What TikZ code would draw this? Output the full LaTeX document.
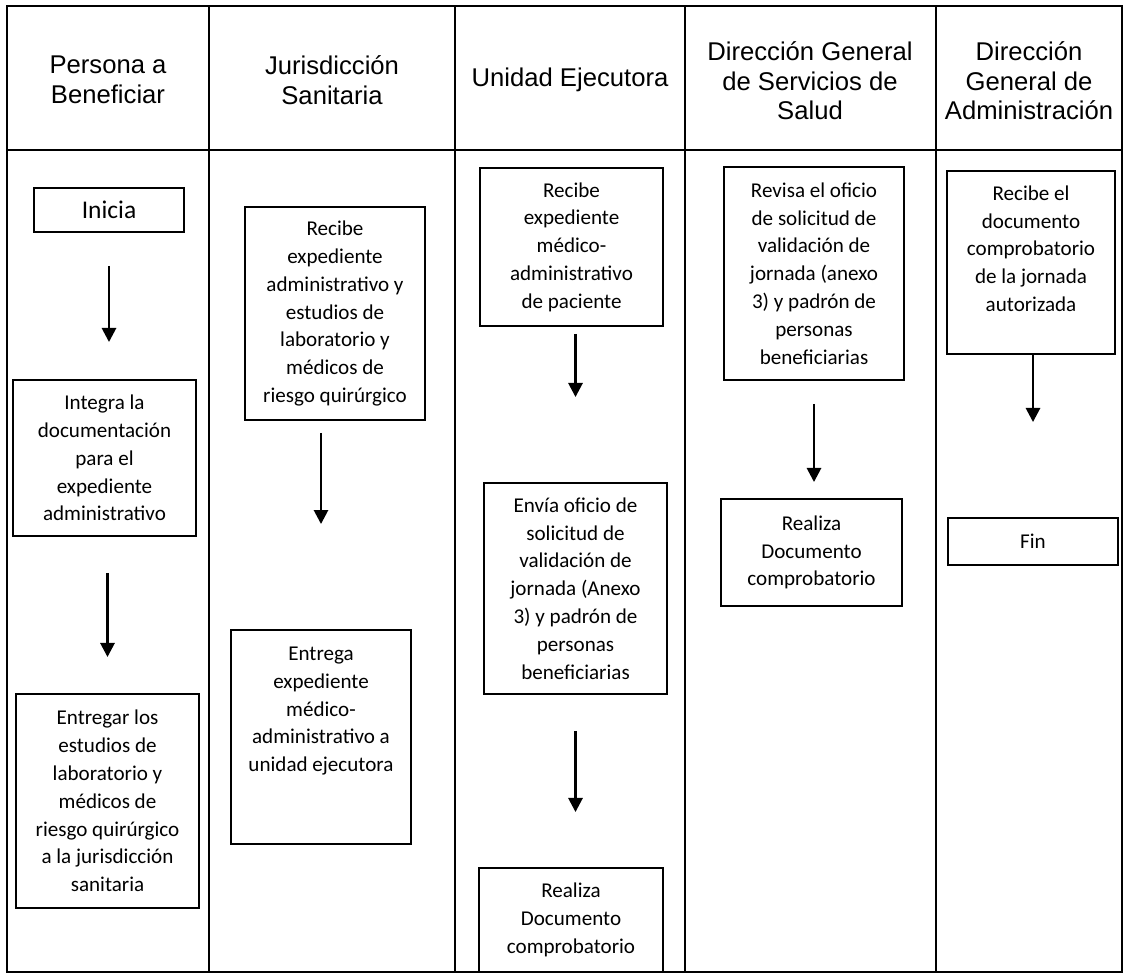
\documentclass[tikz,border=0pt]{standalone}
\usepackage{fontspec}
\newfontfamily\encab{Liberation Sans}
\newfontfamily\cuerpo{Carlito}
\usetikzlibrary{arrows.meta}
\tikzset{
  titulo/.style={align=center,font=\encab\fontsize{14.6}{16.8}\selectfont},
  paso/.style={draw,line width=1.1pt,align=center,inner sep=0pt,
    font=\cuerpo\fontsize{12}{15.8}\selectfont},
  tam/.style 2 args={minimum width=#1*.02cm,minimum height=#2*.02cm},
  flecha/.style={line width=1.5pt,-{Triangle[length=8pt,width=8pt]}}
}

\begin{document}
\begin{tikzpicture}[x=.02cm,y=-.02cm]
\useasboundingbox (0,0) rectangle (1125,976);
% Table
\draw[line width=1pt] (7,6) rectangle (1122,972);
\draw[line width=1pt] (7,150) -- (1122,150);
\foreach \c in {209,455,685,936} \draw[line width=1pt] (\c,6) -- (\c,972);
% Headers
\node[titulo] (persona) at (108,80) {Persona a\\Beneficiar};
\node[titulo] (jurisdiccion) at (332,80) {Jurisdicción\\Sanitaria};
\node[titulo] (unidad) at (570,80) {Unidad Ejecutora};
\node[titulo] (dgss) at (810,81) {Dirección General\\de Servicios de\\Salud};
\node[titulo] (dga) at (1029,81) {Dirección\\General de\\Administración};
% Persona a beneficiar
\node[paso,tam={150}{44},font=\cuerpo\fontsize{14.5}{17}\selectfont] (inicia) at (109,210) {Inicia};
\node[paso,tam={183}{156}] (integra) at (104.5,458)
  {Integra la\\documentación\\para el\\expediente\\administrativo};
\node[paso,tam={183}{214}] (entregar) at (107.5,801)
  {Entregar los\\estudios de\\laboratorio y\\médicos de\\riesgo quirúrgico\\a la jurisdicción\\sanitaria};
% Jurisdiccion sanitaria
\node[paso,tam={180}{213}] (jsrecibe) at (335,313.5)
  {Recibe\\expediente\\administrativo y\\estudios de\\laboratorio y\\médicos de\\riesgo quirúrgico};
\node[paso,tam={180}{214}] (jsentrega) at (321,737)
  {Entrega\\expediente\\médico-\\administrativo a\\unidad ejecutora\\ \mbox{}\\ \mbox{}};
% Unidad ejecutora
\node[paso,tam={183}{158}] (uerecibe) at (571.5,247)
  {Recibe\\expediente\\médico-\\administrativo\\de paciente};
\node[paso,tam={183}{211}] (ueenvia) at (575.5,588.5)
  {Envía oficio de\\solicitud de\\validación de\\jornada (Anexo\\3) y padrón de\\personas\\beneficiarias};
\node[paso,tam={184}{104}] (uerealiza) at (571,920)
  {Realiza\\Documento\\comprobatorio};
% DG servicios de salud
\node[paso,tam={180}{213}] (dgssrevisa) at (814,273.5)
  {Revisa el oficio\\de solicitud de\\validación de\\jornada (anexo\\3) y padrón de\\personas\\beneficiarias};
\node[paso,tam={181}{107}] (dgssrealiza) at (811.5,552.5)
  {Realiza\\Documento\\comprobatorio};
% DG administracion
\node[paso,tam={168}{183}] (dgarecibe) at (1031,262.5)
  {Recibe el\\documento\\comprobatorio\\de la jornada\\autorizada\\ \mbox{}};
\node[paso,tam={170}{47}] (fin) at (1033,541.5) {Fin};
% Arrows
\draw[flecha,shorten <=.66cm,shorten >=.74cm] (inicia.south) -- (inicia.south |- integra.north);
\draw[flecha,shorten <=.72cm,shorten >=.72cm] (integra.south -| entregar.north) -- (entregar.north);
\draw[flecha,shorten <=.24cm,shorten >=2.1cm] (jsrecibe.south -| jsentrega.north) -- (jsentrega.north);
\draw[flecha,shorten <=.14cm,shorten >=1.7cm] (uerecibe.south -| ueenvia.north) -- (ueenvia.north);
\draw[flecha,shorten <=.72cm,shorten >=1.1cm] (ueenvia.south) -- (ueenvia.south |- uerealiza.north);
\draw[flecha,shorten <=.46cm,shorten >=.32cm] (dgssrevisa.south) -- (dgssrevisa.south |- dgssrealiza.north);
\draw[flecha,shorten >=1.9cm] (dgarecibe.south -| fin.north) -- (fin.north);
\end{tikzpicture}
\end{document}
